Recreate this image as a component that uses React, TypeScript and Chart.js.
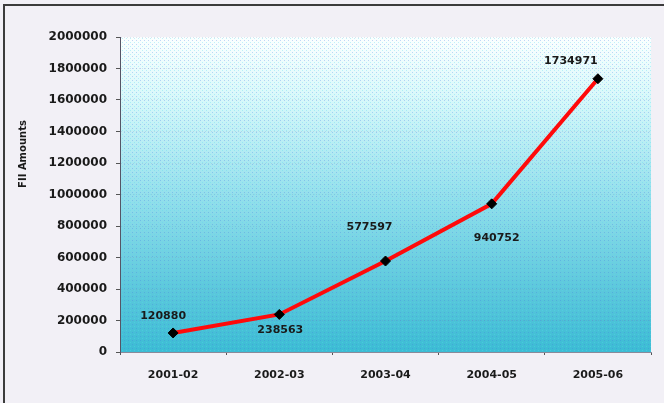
import React, { useEffect, useRef } from "react";
import { Chart, registerables } from "chart.js";

Chart.register(...registerables);

const categories = ["2001-02", "2002-03", "2003-04", "2004-05", "2005-06"];
const fiiAmounts = [120880, 238563, 577597, 940752, 1734971];
const yMin = 0;
const yMax = 2000000;
const yStep = 200000;
const yTitle = "FII Amounts";

const FONT = "'DejaVu Sans', sans-serif";

const backgroundPlugin = {
  id: "plotBg",
  beforeDraw(chart: any) {
    const { ctx, chartArea } = chart;
    if (!chartArea) return;
    const { left, top, right, bottom } = chartArea;
    ctx.save();
    const g = ctx.createLinearGradient(0, top, 0, bottom);
    g.addColorStop(0, "#fbffff");
    g.addColorStop(0.2, "#d6f8fa");
    g.addColorStop(0.5, "#94e0ec");
    g.addColorStop(0.8, "#5cc8dc");
    g.addColorStop(1, "#3cbcd4");
    ctx.fillStyle = g;
    ctx.fillRect(left, top, right - left, bottom - top);
    const pc = document.createElement("canvas");
    pc.width = 4;
    pc.height = 4;
    const p = pc.getContext("2d")!;
    p.fillStyle = "rgba(70,120,230,0.30)";
    p.fillRect(0, 0, 1, 1);
    p.fillStyle = "rgba(90,220,240,0.35)";
    p.fillRect(2, 2, 1, 1);
    const pat = ctx.createPattern(pc, "repeat");
    if (pat) {
      ctx.fillStyle = pat;
      ctx.fillRect(left, top, right - left, bottom - top);
    }
    ctx.restore();
  },
};

const labelPlugin = {
  id: "pointLabels",
  afterDatasetsDraw(chart: any, _args: any, opts: any) {
    const { ctx } = chart;
    const meta = chart.getDatasetMeta(0);
    const data = chart.data.datasets[0].data as number[];
    ctx.save();
    ctx.font = "bold 11px " + FONT;
    ctx.fillStyle = "#1a1a1a";
    ctx.textAlign = "center";
    ctx.textBaseline = "middle";
    meta.data.forEach((pt: any, i: number) => {
      const off = opts.offsets[i] || [0, -15];
      ctx.fillText(String(data[i]), pt.x + off[0], pt.y + off[1]);
    });
    ctx.restore();
  },
};

const axisTitlePlugin = {
  id: "yAxisTitle",
  afterDraw(chart: any, _args: any, opts: any) {
    const { ctx, chartArea } = chart;
    ctx.save();
    ctx.font = "bold 10px " + FONT;
    ctx.fillStyle = "#1a1a1a";
    ctx.textAlign = "center";
    ctx.textBaseline = "middle";
    ctx.translate(opts.x, chartArea.top + opts.dy);
    ctx.rotate(-Math.PI / 2);
    ctx.fillText(opts.text, 0, 0);
    ctx.restore();
  },
};

export default function App() {
  const ref = useRef<HTMLCanvasElement>(null);
  useEffect(() => {
    if (!ref.current) return;
    const chart = new Chart(ref.current, {
      type: "line",
      data: {
        labels: categories,
        datasets: [
          {
            data: fiiAmounts,
            borderColor: "#ff0a0a",
            borderWidth: 4,
            pointStyle: "rectRot",
            pointRadius: 5,
            pointBackgroundColor: "#000",
            pointBorderColor: "#000",
            pointBorderWidth: 1,
            tension: 0,
          },
        ],
      },
      plugins: [backgroundPlugin, labelPlugin, axisTitlePlugin],
      options: {
        animation: false,
        responsive: false,
        layout: { padding: { top: 37, right: 13, left: 0, bottom: 0 } },
        plugins: {
          legend: { display: false },
          tooltip: { enabled: false },
          pointLabels: {
            offsets: [
              [-10, -17],
              [1, 16],
              [-16, -34],
              [5, 34],
              [-27, -18],
            ],
          },
          yAxisTitle: { text: yTitle, x: 23, dy: 117 },
        } as any,
        scales: {
          x: {
            offset: true,
            grid: {
              offset: true,
              drawOnChartArea: false,
              drawTicks: true,
              tickLength: 3,
              color: "#555",
            },
            border: { display: true, color: "#8a8a9a", width: 1, dash: [1, 1] },
            ticks: {
              color: "#1a1a1a",
              font: { family: FONT, size: 11, weight: "bold" },
              padding: 14,
              maxRotation: 0,
            },
            afterFit: (s: any) => {
              s.height = 51;
            },
          },
          y: {
            min: yMin,
            max: yMax,
            grid: {
              color: "rgba(120,130,180,0.22)",
              tickColor: "#555",
              tickLength: 4,
              lineWidth: 1,
            },
            border: { display: true, color: "#556", width: 1, dash: [1, 2] },
            ticks: {
              stepSize: yStep,
              color: "#1a1a1a",
              padding: 9,
              font: { family: FONT, size: 12, weight: "bold" },
              callback: (v: any) => String(v),
            },
            afterFit: (s: any) => {
              s.width = 120;
            },
          },
        },
      } as any,
    });
    return () => chart.destroy();
  }, []);

  return (
    <div
      style={{
        position: "fixed",
        left: 0,
        top: 0,
        width: 664,
        height: 403,
        background: "#f2f0f6",
        overflow: "hidden",
      }}
    >
      <div
        style={{
          position: "absolute",
          left: 3,
          top: 4,
          width: 720,
          height: 460,
          border: "2px solid #3c3c3c",
          boxSizing: "border-box",
        }}
      />
      <canvas
        ref={ref}
        width={664}
        height={403}
        style={{ position: "absolute", left: 0, top: 0, width: 664, height: 403 }}
      />
    </div>
  );
}
